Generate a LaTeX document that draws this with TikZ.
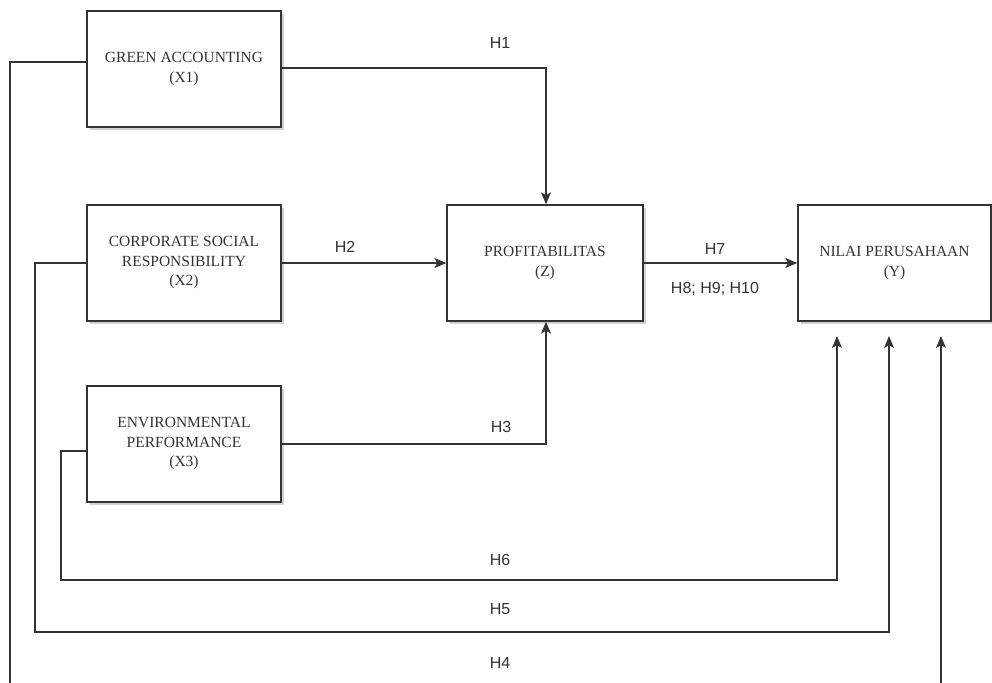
\documentclass[tikz,border=0pt]{standalone}
\usepackage{fontspec}
\setmainfont{Liberation Serif}
\newfontfamily\lsans{Liberation Sans}
\usetikzlibrary{arrows.meta,shadows}
\definecolor{ink}{HTML}{333333}
\definecolor{linec}{HTML}{333333}
\tikzset{
  varbox/.style={draw=linec, line width=1.4pt, fill=white, minimum width=194pt, minimum height=116pt,
    align=center, font=\fontsize{15.5}{19.5}\selectfont, text=ink, inner sep=0pt,
    drop shadow={shadow xshift=2.5pt, shadow yshift=-3pt, opacity=0.18, fill=black}},
  conn/.style={draw=linec, line width=1.3pt},
  arr/.style={conn, -{Stealth[length=12pt,width=10pt,inset=3pt]}},
  hlab/.style={font=\lsans\fontsize{16}{18}\selectfont, text=ink, inner sep=0pt}
}
\begin{document}
\begin{tikzpicture}[x=1pt,y=-1pt]
\useasboundingbox (0,0) rectangle (992,682);
\clip (0,0) rectangle (992,682);
\fill[white] (0,0) rectangle (992,682);

% nodes
\node[varbox] (x1) at (184,69) {GREEN ACCOUNTING\\(X1)};
\node[varbox] (x2) at (184,263) {CORPORATE SOCIAL\\RESPONSIBILITY\\(X2)};
\node[varbox] (x3) at (184,444) {ENVIRONMENTAL\\PERFORMANCE\\(X3)};
\node[varbox, minimum width=196pt, minimum height=116pt] (z) at (545,263) {PROFITABILITAS\\(Z)};
\node[varbox, minimum width=193pt, minimum height=116pt] (y) at (894.5,263) {NILAI PERUSAHAAN\\(Y)};

% helper coordinates
\coordinate (ya) at (837,336);
\coordinate (yb) at (889,336);
\coordinate (yc) at (941,336);
\coordinate (c1) at (546,68);
\coordinate (c3) at (546,444);
\coordinate (l6a) at (61,451);
\coordinate (l6b) at (61,580);
\coordinate (l6c) at (837,580);
\coordinate (l5a) at (35,263);
\coordinate (l5b) at (35,632);
\coordinate (l5c) at (889,632);
\coordinate (l4a) at (10,62);
\coordinate (l4b) at (10,700);
\coordinate (l4c) at (941,700);

% connectors
\draw[arr] ([yshift=1pt]x1.east) -- (c1) -- (c1 |- z.north);
\draw[arr] (x2.east) -- (z.west |- x2.east);
\draw[arr] (x3.east) -- (c3) -- (c3 |- z.south);
\draw[arr] (z.east) -- (y.west |- z.east);
\draw[arr] ([yshift=-7pt]x3.west) -- (l6a) -- (l6b) -- (l6c) -- (ya);
\draw[arr] (x2.west) -- (l5a) -- (l5b) -- (l5c) -- (yb);
\draw[arr] ([yshift=7pt]x1.west) -- (l4a) -- (l4b) -- (l4c) -- (yc);

% labels
\node[hlab] (h1) at (500,43) {H1};
\node[hlab] (h2) at (345,247) {H2};
\node[hlab] (h3) at (501,427) {H3};
\node[hlab] (h7) at (715,249) {H7};
\node[hlab] (h8) at (715,289) {H8; H9; H10};
\node[hlab] (h6) at (500,560) {H6};
\node[hlab] (h5) at (500,609) {H5};
\node[hlab] (h4) at (500,663) {H4};
\end{tikzpicture}
\end{document}
